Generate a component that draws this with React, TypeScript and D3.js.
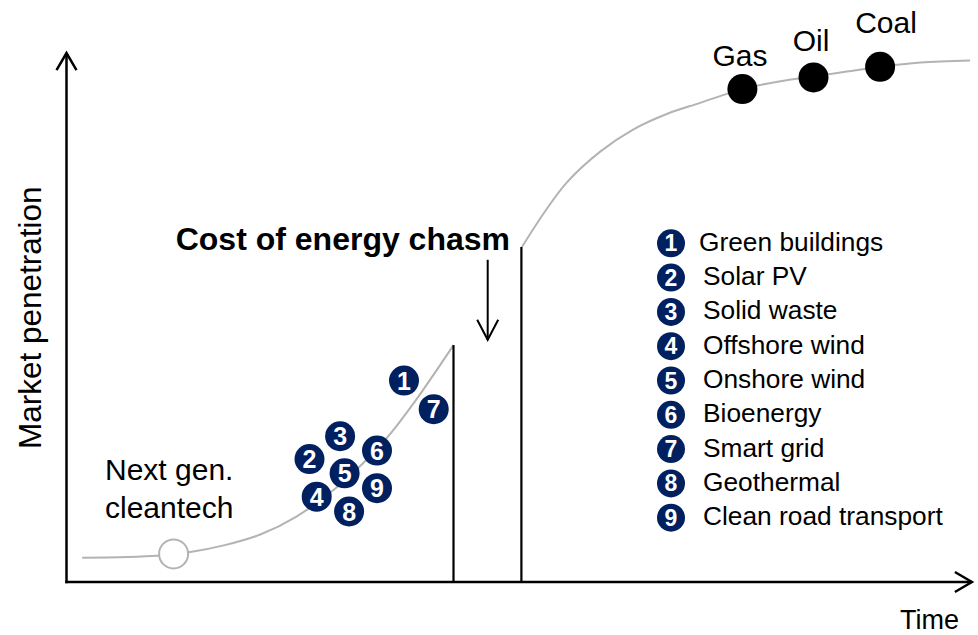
import React from "react";
import * as d3 from "d3";

// Technology adoption curve: time (0–100) vs. market penetration (0–100)
const W = 978;
const H = 635;

// Early-market S-curve for next generation clean technologies
const earlyCurveT = [1.74, 10.1, 13.6, 17.7, 21.6, 25.5, 29.7, 33.0, 36.0, 38.6, 41.9, 43.0];
const earlyCurveP = [4.58, 4.96, 5.6, 7.0, 9.0, 12.3, 17.4, 22.5, 28.0, 33.8, 41.9, 44.7];

// Mature-market curve beyond the chasm
const matureCurveT = [50.6, 53.2, 55.6, 59.3, 63.0, 66.7, 70.4, 75.1, 79.0, 83.0, 86.7, 90.4, 94.9, 100.4];
const matureCurveP = [63.2, 70.0, 75.4, 81.2, 85.4, 88.3, 90.4, 93.0, 94.4, 95.4, 96.3, 97.2, 98.0, 98.4];

// Incumbent energy sources
const fossilNames = ["Gas", "Oil", "Coal"];
const fossilT = [75.1, 83.0, 90.4];
const fossilP = [93.0, 95.2, 97.2];

// Clean technologies (numbered markers)
const techNames = [
  "Green buildings",
  "Solar PV",
  "Solid waste",
  "Offshore wind",
  "Onshore wind",
  "Bioenergy",
  "Smart grid",
  "Geothermal",
  "Clean road transport",
];
const techT = [37.5, 27.0, 30.4, 27.8, 30.9, 34.5, 40.8, 31.4, 34.5];
const techP = [38.0, 23.2, 27.5, 16.1, 20.5, 24.8, 32.6, 13.3, 17.7];

// Next-gen cleantech starting point
const startT = 11.9;
const startP = 5.3;

const NAVY = "#002060";
const GREY = "#b3b3b3";
const FONT = "'Liberation Sans', Arial, Helvetica, sans-serif";

export default function App() {
  const x = d3.scaleLinear().domain([0, 100]).range([66.5, 966.5]);
  const y = d3.scaleLinear().domain([0, 100]).range([582, 52]);

  const line = d3
    .line<[number, number]>()
    .x((d) => x(d[0]))
    .y((d) => y(d[1]))
    .curve(d3.curveCatmullRom.alpha(0.5));

  const early: [number, number][] = earlyCurveT.map((t, i) => [t, earlyCurveP[i]]);
  const mature: [number, number][] = matureCurveT.map((t, i) => [t, matureCurveP[i]]);

  const chasmLeftT = earlyCurveT[earlyCurveT.length - 1];
  const chasmLeftTop = earlyCurveP[earlyCurveP.length - 1];
  const chasmRightT = matureCurveT[0];
  const chasmRightTop = matureCurveP[0];
  const chasmMidT = (chasmLeftT + chasmRightT) / 2;

  const x0 = x(0);
  const y0 = y(0);
  const yTop = y(99.8);
  const xEnd = x(100.6);

  const legendX = 671;
  const legendY0 = 243.3;
  const legendStep = 34.3;

  const arrowX = x(chasmMidT);
  const arrowTop = y(60.8);
  const arrowTip = y(45.7);

  return (
    <svg
      width={W}
      height={H}
      style={{ position: "absolute", left: 0, top: 0, background: "#fff" }}
      fontFamily={FONT}
    >
      <rect width={W} height={H} fill="#fff" />

      {/* curves */}
      <path d={line(early) ?? ""} fill="none" stroke={GREY} strokeWidth={2} />
      <path d={line(mature) ?? ""} fill="none" stroke={GREY} strokeWidth={2} />

      {/* axes */}
      <g stroke="#000" strokeWidth={2.5} fill="none" strokeLinecap="butt">
        <path d={`M${x0},${y0 + 1.2}V${yTop}`} />
        <path d={`M${x0 - 1.2},${y0}H${xEnd}`} />
        <path d={`M${x0 - 10},${yTop + 17}L${x0},${yTop}L${x0 + 10},${yTop + 17}`} strokeLinejoin="miter" />
        <path d={`M${xEnd - 17},${y0 - 10}L${xEnd},${y0}L${xEnd - 17},${y0 + 10}`} strokeLinejoin="miter" />
      </g>

      {/* chasm boundaries */}
      <g stroke="#000" strokeWidth={2.2}>
        <line x1={x(chasmLeftT)} x2={x(chasmLeftT)} y1={y(chasmLeftTop)} y2={y0} />
        <line x1={x(chasmRightT) - 0.5} x2={x(chasmRightT) - 0.5} y1={y(chasmRightTop)} y2={y0} />
      </g>

      {/* chasm arrow */}
      <g stroke="#000" strokeWidth={2} fill="none">
        <line x1={arrowX} x2={arrowX} y1={arrowTop} y2={arrowTip} />
        <path d={`M${arrowX - 10.5},${arrowTip - 20}L${arrowX},${arrowTip}L${arrowX + 10.5},${arrowTip - 20}`} />
      </g>
      <text x={510} y={250} textAnchor="end" fontSize={32} fontWeight="bold" fill="#000">
        Cost of energy chasm
      </text>

      {/* next gen start marker */}
      <circle cx={x(startT)} cy={y(startP)} r={14.5} fill="#fff" stroke={GREY} strokeWidth={2} />
      <text x={105} y={480} fontSize={30} fill="#000">Next gen.</text>
      <text x={105} y={518} fontSize={30} fill="#000">cleantech</text>

      {/* fossil sources */}
      {fossilNames.map((name, i) => (
        <circle key={name} cx={x(fossilT[i])} cy={y(fossilP[i])} r={15} fill="#000" />
      ))}
      <text x={740} y={66} textAnchor="middle" fontSize={30} fill="#000">{fossilNames[0]}</text>
      <text x={811} y={51} textAnchor="middle" fontSize={30} fill="#000">{fossilNames[1]}</text>
      <text x={886} y={33} textAnchor="middle" fontSize={30} fill="#000">{fossilNames[2]}</text>

      {/* clean technologies */}
      {techNames.map((name, i) => (
        <g key={name}>
          <circle cx={x(techT[i])} cy={y(techP[i])} r={15} fill={NAVY} />
          <text
            x={x(techT[i])}
            y={y(techP[i]) + 9}
            textAnchor="middle"
            fontSize={25}
            fontWeight="bold"
            fill="#fff"
          >
            {i + 1}
          </text>
        </g>
      ))}

      {/* legend */}
      {techNames.map((name, i) => {
        const cy = legendY0 + i * legendStep;
        return (
          <g key={`lg-${name}`}>
            <circle cx={legendX} cy={cy} r={14} fill={NAVY} />
            <text x={legendX} y={cy + 8} textAnchor="middle" fontSize={23} fontWeight="bold" fill="#fff">
              {i + 1}
            </text>
            <text x={i === 0 ? 699 : 703} y={cy + 7.5} fontSize={26.3} fill="#000">
              {name}
            </text>
          </g>
        );
      })}

      {/* axis titles */}
      <text x={900} y={629} fontSize={27} fill="#000">Time</text>
      <text
        transform={`translate(41,${449}) rotate(-90)`}
        fontSize={31.5}
        fill="#000"
      >
        Market penetration
      </text>
    </svg>
  );
}
